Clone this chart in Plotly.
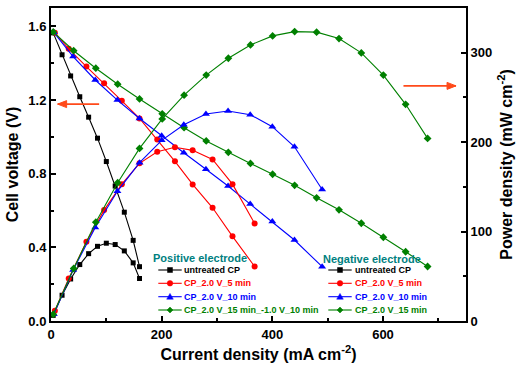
import plotly.graph_objects as go

# ---------------- data ----------------
untreated_I = [4, 20, 35.5, 52, 68, 84, 100, 116, 132.5, 148.5, 160]
untreated_V = [1.565, 1.446, 1.331, 1.218, 1.107, 0.993, 0.866, 0.733, 0.591, 0.438, 0.295]
untreated_P = [6.3, 28.8, 47.0, 63.1, 75.3, 83.5, 87.0, 85.5, 78.4, 65.0, 47.5]

cp5_I = [7, 32, 64, 96, 128, 160, 192, 224, 256, 292, 328, 368]
cp5_V = [1.566, 1.478, 1.382, 1.291, 1.196, 1.100, 0.986, 0.867, 0.742, 0.615, 0.460, 0.296]
cp5_P = [11.5, 47.5, 88.5, 124.0, 153.0, 176.3, 189.3, 194.2, 190.8, 180.7, 153.0, 109.0]

cp10_I = [5, 40, 80, 120, 160, 200, 240, 280, 320, 360, 400, 440, 490]
cp10_V = [1.568, 1.436, 1.309, 1.200, 1.100, 1.006, 0.914, 0.824, 0.733, 0.635, 0.540, 0.440, 0.295]
cp10_P = [7.5, 57.0, 104.6, 145.0, 177.0, 202.0, 219.5, 231.4, 234.8, 230.7, 217.3, 194.8, 147.0]

cp15_I = [4, 41, 81, 120.5, 160, 201, 240.5, 280.5, 320.5, 360.5, 400.5, 440.3, 480,
          520.5, 560.8, 600.6, 640.9, 680.6]
cp15_V = [1.570, 1.468, 1.373, 1.286, 1.206, 1.125, 1.050, 0.978, 0.916, 0.856, 0.797,
          0.737, 0.669, 0.604, 0.531, 0.455, 0.376, 0.296]
cp15_P = [7.5, 58.7, 110.5, 154.6, 193.0, 226.0, 252.5, 275.0, 293.8, 308.7, 318.8,
          323.6, 323.0, 315.8, 299.8, 275.0, 242.3, 204.2]

positive_labels = ["untreated CP", "CP_2.0 V_5 min", "CP_2.0 V_10 min",
                   "CP_2.0 V_15 min_-1.0 V_10 min"]
negative_labels = ["untreated CP", "CP_2.0 V_5 min", "CP_2.0 V_10 min",
                   "CP_2.0 V_15 min"]

x_ticks = [0, 200, 400, 600]
v_ticks = [0.0, 0.4, 0.8, 1.2, 1.6]
p_ticks = [0, 100, 200, 300]

# ---------------- styles ----------------
series = [
    (untreated_I, untreated_V, untreated_P, "#000000", "square", 5),
    (cp5_I, cp5_V, cp5_P, "#ff0000", "circle", 6),
    (cp10_I, cp10_V, cp10_P, "#0000ff", "triangle-up", 7),
    (cp15_I, cp15_V, cp15_P, "#008000", "diamond", 6),
]

FONT = "Liberation Sans, Arial, sans-serif"
fig = go.Figure()

for I, V, P, col, sym, ms in series:
    fig.add_trace(go.Scatter(x=I, y=V, mode="lines+markers", yaxis="y",
                             line=dict(color=col, width=1.1),
                             marker=dict(symbol=sym, size=ms, color=col),
                             showlegend=False))
    fig.add_trace(go.Scatter(x=I, y=P, mode="lines+markers", yaxis="y2",
                             line=dict(color=col, width=1.1),
                             marker=dict(symbol=sym, size=ms, color=col),
                             showlegend=False))

tickfont = dict(family=FONT, size=13, color="black", weight="bold")
titlefont = dict(family=FONT, size=16, color="black", weight="bold")

def axis_common():
    return dict(ticks="inside", ticklen=5, tickwidth=1.5, tickcolor="black",
                showline=True, linewidth=2, linecolor="black", automargin=False,
                showgrid=False, zeroline=False, tickfont=tickfont)

fig.update_layout(
    width=520, height=366,
    margin=dict(l=51, r=54, t=8, b=45, autoexpand=False),
    plot_bgcolor="white", paper_bgcolor="white",
    showlegend=False,
    xaxis=dict(range=[0, 750], tickvals=x_ticks, mirror=True,
               minor=dict(dtick=100, tick0=0, ticks="inside", ticklen=3,
                          tickwidth=1.5, tickcolor="black"),
               title=dict(text="Current density (mA cm<sup>-2</sup>)",
                          font=titlefont, standoff=8),
               **axis_common()),
    yaxis=dict(range=[0, 1.7], tickvals=v_ticks, tickformat=".1f", mirror=True,
               minor=dict(dtick=0.2, tick0=0, ticks="inside", ticklen=3,
                          tickwidth=1.5, tickcolor="black"),
               title=dict(text="Cell voltage (V)", font=titlefont, standoff=6),
               **axis_common()),
    yaxis2=dict(range=[0, 350], tickvals=p_ticks, overlaying="y", side="right",
                anchor="x",
                minor=dict(dtick=50, tick0=0, ticks="inside", ticklen=3,
                           tickwidth=1.5, tickcolor="black"),
                title=dict(text="Power density (mW cm<sup>-2</sup>)",
                           font=titlefont, standoff=9),
                **axis_common()),
)

# ---------------- arrows pointing to the axes (decoration) ----------------
arrow_col = "#ff4a1a"
def arrow(x_tail, x_head, yv, direction):
    head_len = 9 * direction
    fig.add_shape(type="line", xref="x", yref="y", x0=x_tail, x1=x_head, y0=yv, y1=yv,
                  line=dict(color=arrow_col, width=1.6), layer="above")
    fig.add_shape(type="path", xref="x", yref="y", xsizemode="pixel", ysizemode="pixel",
                  xanchor=x_head, yanchor=yv,
                  path=f"M 0,0 L {head_len},3.5 L {head_len},-3.5 Z",
                  fillcolor=arrow_col, line=dict(color=arrow_col, width=1), layer="above")

arrow(87, 12, 1.178, 1)
arrow(637, 732, 1.277, -1)

# ---------------- manual legends ----------------
L, R, T, B = 51, 466, 8, 321
def pxx(px):
    return (px - L) / (R - L)
def pxy(py):
    return (B - py) / (B - T)

legend_font = dict(family=FONT, size=9, weight="bold")
title_col = "#008080"

def marker_shape(sym, cx, cy, col):
    common = dict(xref="paper", yref="paper", xsizemode="pixel", ysizemode="pixel",
                  xanchor=pxx(cx), yanchor=pxy(cy), fillcolor=col,
                  line=dict(color=col, width=0.5), layer="above")
    if sym == "square":
        fig.add_shape(type="rect", x0=-2.5, x1=2.5, y0=-2.5, y1=2.5, **common)
    elif sym == "circle":
        fig.add_shape(type="circle", x0=-2.8, x1=2.8, y0=-2.8, y1=2.8, **common)
    elif sym == "triangle-up":
        fig.add_shape(type="path", path="M -3.3,-2.5 L 3.3,-2.5 L 0,3.3 Z", **common)
    else:
        fig.add_shape(type="path", path="M -3,0 L 0,3 L 3,0 L 0,-3 Z", **common)

def draw_legend(title, labels, x_line0, x_line1, x_text, y_title, rows):
    fig.add_annotation(x=pxx(x_line0 - 7), y=pxy(y_title), xref="paper", yref="paper",
                       text=title, showarrow=False, xanchor="left", yanchor="middle",
                       font=dict(family=FONT, size=11, weight="bold", color=title_col))
    for (I, V, P, col, sym, ms), lab, yy in zip(series, labels, rows):
        fig.add_shape(type="line", xref="paper", yref="paper",
                      x0=pxx(x_line0), x1=pxx(x_line1), y0=pxy(yy), y1=pxy(yy),
                      line=dict(color=col, width=1.1), layer="above")
        marker_shape(sym, (x_line0 + x_line1) / 2, yy, col)
        fig.add_annotation(x=pxx(x_text), y=pxy(yy), xref="paper", yref="paper",
                           text=lab, showarrow=False, xanchor="left", yanchor="middle",
                           font=dict(color=col, **legend_font))

rows = [270, 283.3, 296.7, 310]
draw_legend("Positive electrode", positive_labels, 158.3, 181.7, 182, 257.5, rows)
draw_legend("Negative electrode", negative_labels, 328.3, 351.7, 352.5, 258.5, rows)

fig.write_html("out.html", config={"displayModeBar": False},
               post_script="document.body.style.margin='0px';")
